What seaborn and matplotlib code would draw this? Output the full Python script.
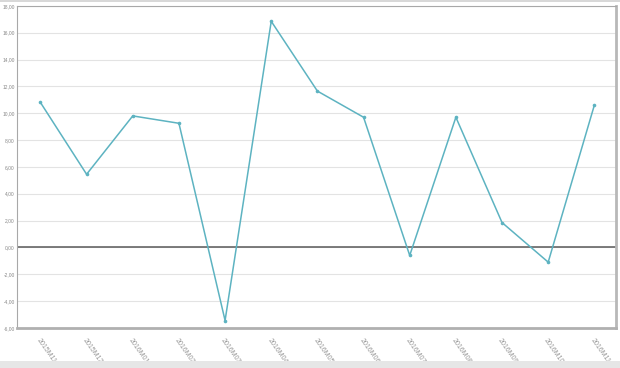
import matplotlib
matplotlib.use("Agg")
import matplotlib.pyplot as plt
import seaborn as sns
import pandas as pd
from matplotlib.patches import Rectangle

periods = ["2015M11", "2015M12", "2016M01", "2016M02", "2016M03", "2016M04",
           "2016M05", "2016M06", "2016M07", "2016M08", "2016M09", "2016M10", "2016M11"]
values = [10.8, 5.45, 9.8, 9.25, -5.45, 16.85, 11.65, 9.7, -0.6, 9.7, 1.85, -1.1, 10.6]
yticks = [-6, -4, -2, 0, 2, 4, 6, 8, 10, 12, 14, 16, 18]

df = pd.DataFrame({"period": periods, "value": values, "idx": range(len(periods))})

sns.set_style("white")
plt.rcParams['font.family'] = ['Liberation Sans', 'DejaVu Sans']

fig = plt.figure(figsize=(6.2, 3.68), dpi=100)
fig.patch.set_facecolor("white")
fig.patches.append(Rectangle((0, 0), 1, 0.018, transform=fig.transFigure,
                             facecolor="#e6e6e6", edgecolor="none", zorder=0))
fig.patches.append(Rectangle((0, 0.995), 1, 0.005, transform=fig.transFigure,
                             facecolor="#d8d8d8", edgecolor="none", zorder=0))

ax = fig.add_axes([0.028, 0.109, 0.966, 0.875])
for y in yticks:
    ax.axhline(y, color="#e3e3e3", lw=0.8, zorder=0)
ax.axhline(0, color="#666666", lw=1.2, zorder=1)

sns.lineplot(data=df, x="idx", y="value", ax=ax, color="#5db3c1", lw=1.1,
             marker="o", markersize=2.6, markeredgewidth=0, zorder=3)

ax.set_xlim(-0.5, 12.475)
ax.set_ylim(-6, 18)
ax.set_yticks(yticks)
ax.set_yticklabels([f"{v:.2f}".replace(".", ",") for v in yticks])
ax.set_xticks(range(len(periods)))
ax.set_xticklabels(periods, rotation=-55, ha="left", va="top", rotation_mode="anchor")
ax.tick_params(axis="y", labelsize=3.5, colors="#888888", length=1.5, width=0.6, pad=0.5)
ax.tick_params(axis="x", labelsize=5, colors="#999999", length=0, width=0.6, pad=7)
ax.set_xlabel("")
ax.set_ylabel("")

for side in ["left", "top"]:
    ax.spines[side].set_color("#a8a8a8")
    ax.spines[side].set_linewidth(0.8)
ax.spines["right"].set_color("#b8b8b8")
ax.spines["right"].set_linewidth(2.0)
ax.spines["bottom"].set_color("#b0b0b0")
ax.spines["bottom"].set_linewidth(2.0)

fig.savefig("out.png", dpi=100)
